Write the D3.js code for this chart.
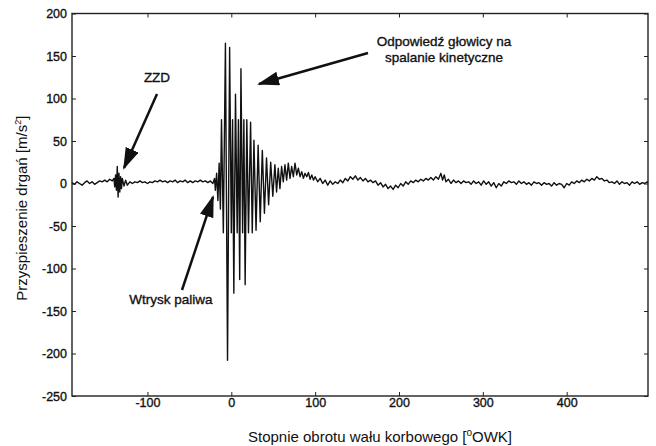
<!DOCTYPE html>
<html lang="pl">
<head>
    <meta charset="UTF-8">
    <title>Przyspieszenie drgań</title>
    <script src="https://cdnjs.cloudflare.com/ajax/libs/d3/7.8.5/d3.min.js"></script>
    <style>
        body { margin: 0; background: #fff; }
        text { font-family: "Liberation Sans", Arial, sans-serif; fill: #111; }
        .dark { stroke: #111; stroke-width: 0.35px; }
    </style>
</head>
<body>
    <div id="wrapper"></div>
    <script>
        // kąt [°OWK], przyspieszenie [m/s2]
        const preSignal = [
            [-190, 1], [-187, -1], [-184, 2], [-181, 0], [-178, -2], [-175, 1], [-172, 3], [-169, 0],
            [-166, 2], [-163, -1], [-160, 1], [-157, 3], [-154, 2], [-151, 4], [-148, 2], [-145, 5],
            [-142, 3], [-140, 6], [-139, -4], [-138, 10], [-137, -8], [-136, 20], [-135, -16], [-134, 12],
            [-133, -10], [-132, 8], [-131, -6], [-130, 6], [-128, -3], [-126, 4], [-124, -2], [-121, 2],
            [-118, 0], [-115, 2], [-112, 1], [-109, 3], [-106, 1], [-103, 2], [-100, 0], [-97, 2],
            [-94, 1], [-91, 3], [-88, 2], [-85, 4], [-82, 2], [-79, 3], [-76, 1], [-73, 3],
            [-70, 2], [-67, 4], [-64, 1], [-61, 3], [-58, 2], [-55, 4], [-52, 1], [-49, 3],
            [-46, 1], [-43, 3], [-40, 2], [-37, 4], [-34, 2], [-31, 3], [-28, 1], [-25, 3]
        ]

        const burstSignal = [
            [-22, 0], [-20, 6], [-19, -8], [-17.5, 12], [-16, -20], [-14.5, 24], [-13, -30],
            [-11.7, 75], [-9.5, -58], [-7, 165], [-4.5, -208], [-2, 160], [0, -58], [1.5, 75],
            [3, -129], [5, 105], [7, -58], [8.5, 75], [10, -113], [11.5, 135], [13.5, -58],
            [15, 75], [16.5, -119], [18.5, 75], [20.5, -58], [23, 72], [25, -58], [27, 51],
            [29.5, -55], [32, 45], [34.5, -45], [37, 39], [39.5, -35], [42, 30], [44.5, -25],
            [47, 25], [49.5, -15], [52, 22], [54, -10]
        ]

        const postSignal = [
            [56, 18], [58, -6], [60, 20], [62, 2], [64, 22], [66, 4], [68, 24], [70, 6],
            [72, 20], [74, 8], [76, 24], [78, 10], [80, 18], [82, 8], [84, 14], [86, 6],
            [88, 12], [90, 8], [92, 13], [94, 5], [96, 10], [98, 4], [100, 8], [103, 2],
            [106, 6], [109, 0], [112, 4], [115, -2], [118, 3], [121, -1], [124, 2], [127, 0],
            [130, 4], [133, 1], [136, 6], [139, 3], [142, 8], [145, 5], [148, 9], [151, 4],
            [154, 7], [157, 3], [160, 6], [163, 2], [166, 4], [169, 1], [172, 3], [175, -2],
            [178, 1], [181, -4], [184, -1], [187, -6], [190, -3], [193, -7], [196, -2], [199, -5],
            [202, 0], [205, -3], [208, 2], [211, -1], [214, 3], [217, 1], [220, 4], [223, 2],
            [226, 5], [229, 3], [232, 6], [235, 4], [238, 7], [241, 4], [244, 8], [247, 5],
            [250, 12], [252, 4], [254, 10], [256, 2], [259, 5], [262, 0], [265, 4], [268, 1],
            [271, 3], [274, 0], [277, 3], [280, 1], [283, 2], [286, -1], [289, 3], [292, 0],
            [295, 2], [298, -2], [301, 3], [304, -1], [307, 2], [310, -3], [313, 1], [316, -5],
            [319, 0], [322, -3], [325, 2], [328, 0], [331, 3], [334, 1], [337, 2], [340, -1],
            [343, 3], [346, 0], [349, 2], [352, -1], [355, 1], [358, -2], [361, 2], [364, 0],
            [367, 1], [370, -2], [373, 1], [376, -1], [379, 0], [382, -3], [385, 1], [388, -2],
            [391, 0], [394, -1], [397, -5], [400, 0], [403, -2], [406, 2], [409, 0], [412, 3],
            [415, 1], [418, 4], [421, 2], [424, 5], [427, 3], [430, 6], [433, 4], [436, 8],
            [439, 5], [442, 6], [445, 3], [448, 4], [451, 1], [454, 2], [457, 0], [460, 3],
            [463, -1], [466, 2], [469, 0], [472, 1], [475, -2], [478, 2], [481, 0], [484, 2],
            [487, -1], [490, 1], [493, 0], [496, 2], [497, 1]
        ]

        const xTicks = [-100, 0, 100, 200, 300, 400]
        const yTicks = [-250, -200, -150, -100, -50, 0, 50, 100, 150, 200]

        const dimensions = {
            width: 656,
            height: 446,
            margin: { top: 13.5, right: 8, bottom: 50, left: 72 }
        }
        dimensions.boundedWidth = dimensions.width - dimensions.margin.left - dimensions.margin.right
        dimensions.boundedHeight = dimensions.height - dimensions.margin.top - dimensions.margin.bottom

        const svg = d3.select('#wrapper')
            .append('svg')
                .attr('width', dimensions.width)
                .attr('height', dimensions.height)

        const bounds = svg.append('g')
            .attr('transform', `translate(${dimensions.margin.left},${dimensions.margin.top})`)

        const xScale = d3.scaleLinear()
            .domain([-190, 497])
            .range([0, dimensions.boundedWidth])

        const yScale = d3.scaleLinear()
            .domain([-250, 200])
            .range([dimensions.boundedHeight, 0])

        // sygnał
        const dataset = [...preSignal, ...burstSignal, ...postSignal]
        const lineGenerator = d3.line()
            .x(d => xScale(d[0]))
            .y(d => yScale(d[1]))

        bounds.append('path')
            .attr('d', lineGenerator(dataset))
            .attr('fill', 'none')
            .attr('stroke', '#111')
            .attr('stroke-width', 1.4)
            .attr('stroke-linejoin', 'round')

        // osie - tick marks do środka, zwykły minus jak w oryginale
        const plain = d => String(d)
        const styleAxis = g => {
            g.select('.domain').remove()
            g.selectAll('line').attr('stroke', '#222')
            g.selectAll('text').attr('class', 'dark').style('font-size', '12.5px').attr('fill', '#111')
        }

        bounds.append('g')
            .attr('transform', `translate(0,${dimensions.boundedHeight})`)
            .call(d3.axisBottom(xScale).tickValues(xTicks).tickSizeInner(-4).tickSizeOuter(0).tickPadding(2).tickFormat(plain))
            .call(styleAxis)

        bounds.append('g')
            .call(d3.axisTop(xScale).tickValues(xTicks).tickSizeInner(-4).tickSizeOuter(0).tickFormat(''))
            .call(styleAxis)

        bounds.append('g')
            .call(d3.axisLeft(yScale).tickValues(yTicks).tickSizeInner(-4).tickSizeOuter(0).tickPadding(5).tickFormat(plain))
            .call(styleAxis)

        bounds.append('g')
            .attr('transform', `translate(${dimensions.boundedWidth},0)`)
            .call(d3.axisRight(yScale).tickValues(yTicks).tickSizeInner(-4).tickSizeOuter(0).tickFormat(''))
            .call(styleAxis)

        bounds.append('rect')
            .attr('width', dimensions.boundedWidth)
            .attr('height', dimensions.boundedHeight)
            .attr('fill', 'none')
            .attr('stroke', '#222')
            .attr('stroke-width', 1.4)

        // opisy osi
        const xLabel = svg.append('text')
            .attr('x', 380)
            .attr('y', 442)
            .attr('text-anchor', 'middle')
            .style('font-size', '15px')
        xLabel.append('tspan').text('Stopnie obrotu wału korbowego [')
        xLabel.append('tspan').attr('dy', -6).style('font-size', '10px').text('o')
        xLabel.append('tspan').attr('dy', 6).text('OWK]')

        const yLabel = svg.append('text')
            .attr('transform', `translate(27,${dimensions.margin.top + yScale(-29)}) rotate(-90)`)
            .attr('text-anchor', 'middle')
            .style('font-size', '15px')
        yLabel.append('tspan').text('Przyspieszenie drgań [m/s')
        yLabel.append('tspan').attr('dy', -6).style('font-size', '9px').text('2')
        yLabel.append('tspan').attr('dy', 6).text(']')

        // adnotacje ze strzałkami
        svg.append('defs').append('marker')
            .attr('id', 'head')
            .attr('viewBox', '0 0 22 14')
            .attr('refX', 20)
            .attr('refY', 7)
            .attr('markerWidth', 22)
            .attr('markerHeight', 14)
            .attr('markerUnits', 'userSpaceOnUse')
            .attr('orient', 'auto')
            .append('path')
                .attr('d', 'M0,0 L22,7 L0,14 z')
                .attr('fill', '#111')

        const annotations = [
            { lines: ['ZZD'], x: 157, y: 82, from: [157, 94], to: [124, 168] },
            { lines: ['Odpowiedź głowicy na', 'spalanie kinetyczne'], x: 444, y: 46, from: [368, 53], to: [259, 84] },
            { lines: ['Wtrysk paliwa'], x: 171, y: 304, from: [182, 290], to: [213, 197] }
        ]

        annotations.forEach(a => {
            a.lines.forEach((t, i) => {
                svg.append('text')
                    .attr('class', 'dark')
                    .attr('x', a.x)
                    .attr('y', a.y + i * 16)
                    .attr('text-anchor', 'middle')
                    .style('font-size', '13.5px')
                    .text(t)
            })
            svg.append('line')
                .attr('x1', a.from[0]).attr('y1', a.from[1])
                .attr('x2', a.to[0]).attr('y2', a.to[1])
                .attr('stroke', '#111')
                .attr('stroke-width', 2.5)
                .attr('marker-end', 'url(#head)')
        })
    </script>
</body>
</html>
